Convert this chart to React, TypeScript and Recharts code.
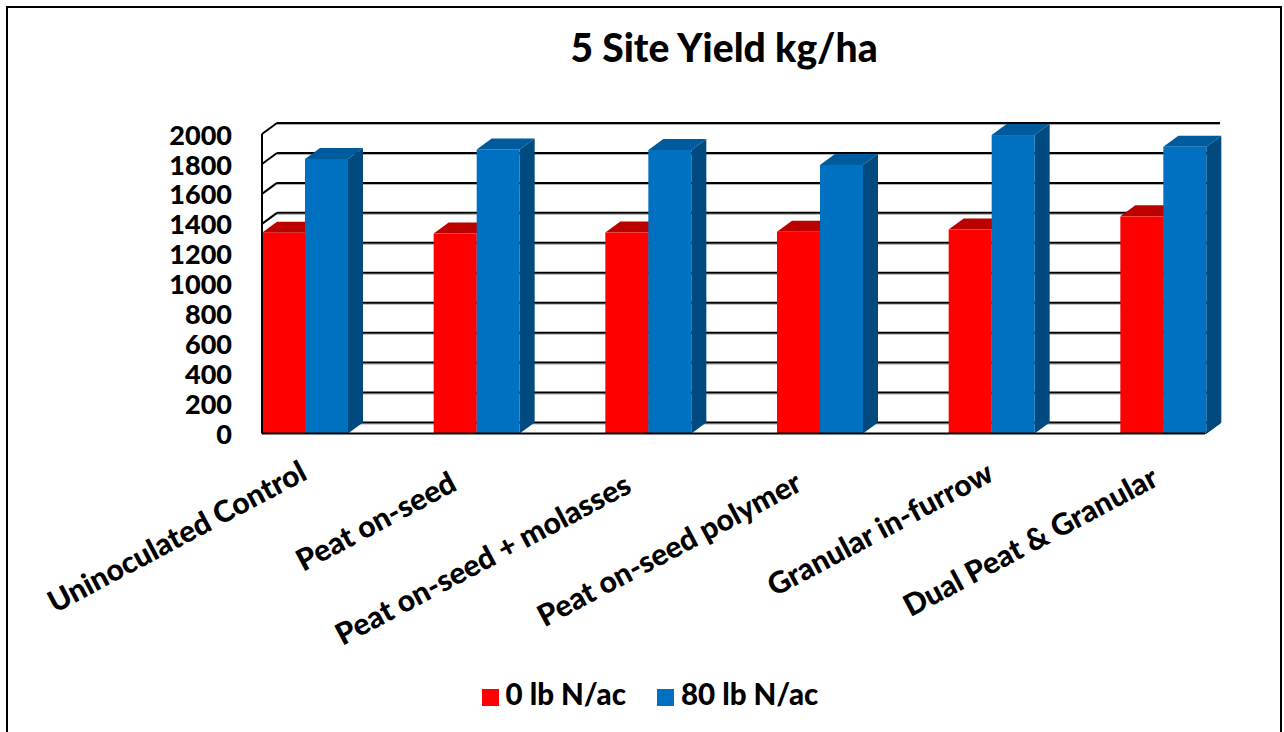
import React from "react";
import { BarChart, Bar, XAxis, YAxis, CartesianGrid, Legend } from "recharts";

const categories = [
  "Uninoculated Control",
  "Peat on-seed",
  "Peat on-seed + molasses",
  "Peat on-seed polymer",
  "Granular in-furrow",
  "Dual Peat & Granular",
];
const noNitrogen = [1340, 1335, 1342, 1348, 1362, 1450];
const highNitrogen = [1833, 1897, 1893, 1793, 1993, 1915];
const yTicks = [0, 200, 400, 600, 800, 1000, 1200, 1400, 1600, 1800, 2000];

const data = categories.map((name, i) => ({
  name,
  noNitrogen: noNitrogen[i],
  highNitrogen: highNitrogen[i],
}));

const FONT = "Lato, sans-serif";
// how far the fake 3D box runs back
const DEPTH_X = 15;
const DEPTH_Y = 11;
// the slanted labels do not sit evenly under their ticks in the original
const labelNudgeX = [4, -18, -15, -16, 4, -3];
const labelNudgeY = [-1, 10, 12, 10, 0, 5];

function Box3D(props: any) {
  const { x, y, width, height, fill, topFill, sideFill } = props;
  const r = x + width;
  const b = y + height;
  return (
    <g>
      <polygon
        points={`${r},${y} ${r + DEPTH_X},${y - DEPTH_Y} ${r + DEPTH_X},${b - DEPTH_Y} ${r},${b}`}
        fill={sideFill}
      />
      <polygon
        points={`${x},${y} ${x + DEPTH_X},${y - DEPTH_Y} ${r + DEPTH_X},${y - DEPTH_Y} ${r},${y}`}
        fill={topFill}
      />
      <rect x={x} y={y} width={width} height={height} fill={fill} />
    </g>
  );
}

function WallLine(props: any) {
  const { x1, x2, y1 } = props;
  const backY = y1 - DEPTH_Y;
  return (
    <g fill="none">
      <line x1={x1 + DEPTH_X} y1={backY + 1.5} x2={x2 + DEPTH_X} y2={backY + 1.5} stroke="#aaa" strokeWidth={1} />
      <g stroke="#000" strokeWidth={2}>
        <line x1={x1} y1={y1} x2={x1 + DEPTH_X} y2={backY} />
        <line x1={x1 + DEPTH_X} y1={backY} x2={x2 + DEPTH_X} y2={backY} />
        {Math.abs(y1 - 433.5) < 1 && <line x1={x2} y1={y1} x2={x2 + DEPTH_X} y2={backY} />}
      </g>
    </g>
  );
}

function SlantedTick(props: any) {
  const { x, y, payload, index } = props;
  return (
    <text
      transform={`translate(${x + labelNudgeX[index]},${y + 38 + labelNudgeY[index]}) rotate(-28)`}
      textAnchor="end"
      fontFamily={FONT}
      fontWeight={900}
      fontSize={30}
      fill="#000"
    >
      {payload.value}
    </text>
  );
}

export default function App() {
  return (
    <div style={{ position: "absolute", left: 0, top: 0, width: 1284, height: 732, overflow: "hidden", background: "#fff" }}>
      <div style={{ position: "absolute", left: 6, top: 6, width: 1272, height: 760, border: "2px solid #000" }} />
      <div style={{ position: "absolute", left: 0, top: 0 }}>
        <BarChart
          width={1284}
          height={732}
          data={data}
          margin={{ top: 134, right: 79, bottom: 0, left: 0 }}
          barSize={43}
          barGap={0}
        >
          <text x={724} y={62} textAnchor="middle" fontFamily={FONT} fontWeight={900} fontSize={39} fill="#000">
            5 Site Yield kg/ha
          </text>
          <CartesianGrid vertical={false} horizontal={(p: any) => <WallLine key={p.key} {...p} />} />
          <XAxis
            dataKey="name"
            height={298.5}
            interval={0}
            padding={{ left: -43, right: -44 }}
            axisLine={{ stroke: "#000", strokeWidth: 2 }}
            tickLine={false}
            tick={<SlantedTick />}
          />
          <YAxis
            width={262}
            domain={[0, 2000]}
            ticks={yTicks}
            interval={0}
            axisLine={{ stroke: "#000", strokeWidth: 2 }}
            tickLine={false}
            tickSize={0}
            tickMargin={30}
            tick={{ fontFamily: FONT, fontWeight: 900, fontSize: 27, fill: "#000", dy: 1 }}
          />
          <Legend
            verticalAlign="middle"
            layout="horizontal"
            iconType="square"
            iconSize={17}
            wrapperStyle={{ left: 0, top: 676, width: 1331, fontFamily: FONT, fontWeight: 900, fontSize: 29.5 }}
            formatter={(v: string) => <span style={{ color: "#000", marginLeft: 3, marginRight: 21 }}>{v}</span>}
          />
          <Bar
            dataKey="noNitrogen"
            name="0 lb N/ac"
            fill="#FF0000"
            isAnimationActive={false}
            shape={(p: any) => <Box3D {...p} topFill="#BB0000" sideFill="#BB0000" />}
          />
          <Bar
            dataKey="highNitrogen"
            name="80 lb N/ac"
            fill="#0070C0"
            isAnimationActive={false}
            shape={(p: any) => <Box3D {...p} topFill="#005A9E" sideFill="#004A80" />}
          />
        </BarChart>
      </div>
    </div>
  );
}
